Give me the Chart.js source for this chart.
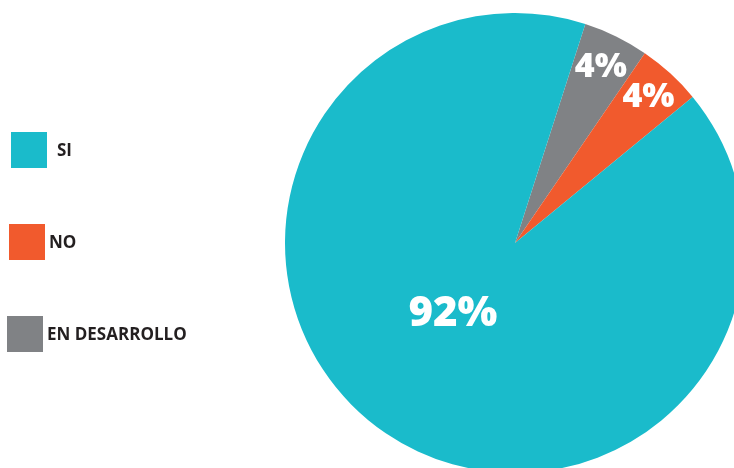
<!DOCTYPE html>
<html>
<head>
<meta charset="utf-8">
<script src="https://cdn.jsdelivr.net/npm/chart.js@4.4.1/dist/chart.umd.min.js"></script>
<style>
  html, body { margin: 0; padding: 0; background: #ffffff; overflow: hidden; width: 734px; height: 468px; }
  #wrap { position: absolute; left: 0; top: 0; width: 760px; height: 490px; }
</style>
</head>
<body>
<div id="wrap"><canvas id="chart" width="760" height="490"></canvas></div>
<script>
const categories = ['SI', 'NO', 'EN DESARROLLO'];
const shares = [90.9, 4.5, 4.6];
const shareLabels = ['92%', '4%', '4%'];

const COLORS = {
  slices: ['#1abbcb', '#f15a2d', '#808285'],
  text: '#231f20',
  label: '#ffffff'
};
const FONT = '"Open Sans", "Noto Sans", sans-serif';

// pie goes clockwise: EN DESARROLLO, NO, SI from the top-right
const order = [2, 1, 0];

const legendBoxes = [
  { x: 11, y: 132, tx: 57 },
  { x: 9, y: 224, tx: 49 },
  { x: 7, y: 316, tx: 47 }
];

// label placement per slice (radius fraction, angle nudge in degrees)
const labelPlace = [
  { r: 0.41, nudge: 7, size: 42 },
  { r: 0.86, nudge: 0, size: 34 },
  { r: 0.85, nudge: 0, size: 34 }
];

const overlayPlugin = {
  id: 'overlay',
  afterDraw(chart) {
    const ctx = chart.ctx;
    ctx.save();
    // legend
    categories.forEach((name, i) => {
      const b = legendBoxes[i];
      ctx.fillStyle = COLORS.slices[i];
      ctx.fillRect(b.x, b.y, 36, 36);
      ctx.fillStyle = COLORS.text;
      ctx.font = `bold 17px ${FONT}`;
      ctx.textBaseline = 'middle';
      ctx.textAlign = 'left';
      ctx.fillText(name, b.tx, b.y + 19);
    });
    // slice labels
    const meta = chart.getDatasetMeta(0);
    meta.data.forEach((arc, j) => {
      const i = order[j];
      const p = labelPlace[i];
      const mid = (arc.startAngle + arc.endAngle) / 2 + p.nudge * Math.PI / 180;
      const dist = arc.outerRadius * p.r;
      const x = arc.x + Math.cos(mid) * dist;
      const y = arc.y + Math.sin(mid) * dist;
      ctx.fillStyle = COLORS.label;
      ctx.font = `800 ${p.size}px ${FONT}`;
      ctx.textAlign = 'center';
      ctx.textBaseline = 'middle';
      ctx.fillText(shareLabels[i], x, y);
    });
    ctx.restore();
  }
};

new Chart(document.getElementById('chart').getContext('2d'), {
  type: 'pie',
  data: {
    labels: order.map((i) => categories[i]),
    datasets: [{
      data: order.map((i) => shares[i]),
      backgroundColor: order.map((i) => COLORS.slices[i]),
      borderWidth: 0,
      hoverOffset: 0
    }]
  },
  options: {
    responsive: false,
    animation: false,
    devicePixelRatio: 1,
    rotation: 17.8,
    layout: { padding: { left: 285, top: 13, right: 15, bottom: 17 } },
    plugins: {
      legend: { display: false },
      tooltip: { enabled: false }
    }
  },
  plugins: [overlayPlugin]
});
</script>
</body>
</html>
